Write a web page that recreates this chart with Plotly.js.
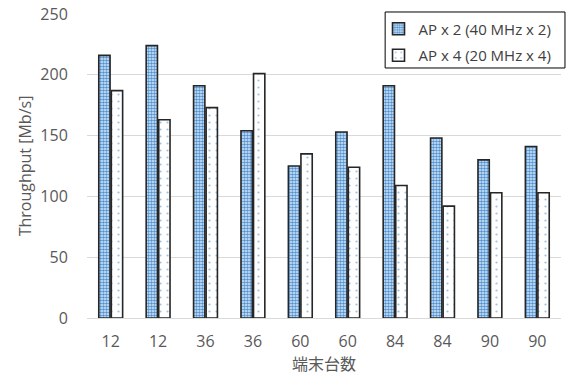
<!DOCTYPE html>
<html><head><meta charset="utf-8">
<script src="https://cdn.plot.ly/plotly-3.0.1.min.js"></script>
<style>html,body{margin:0;padding:0;background:#fff}#chart{width:570px;height:376px}</style>
</head><body><div id="chart"></div>
<script>
const categories = ["12","12","36","36","60","60","84","84","90","90"];
const seriesNames = ["AP x 2 (40 MHz x 2)","AP x 4 (20 MHz x 4)"];
const ap2 = [216,224,191,154,125,153,191,148,130,141];
const ap4 = [187,163,173,201,135,124,109,92,103,103];
const yTicks = [0,50,100,150,200,250];

const idx = categories.map((c,i)=>i);
const font = "Open Sans, Noto Sans, sans-serif";
const data = [
  {type:'bar', x:idx, y:ap2, name:seriesNames[0], legendgroup:'a',
   marker:{color:'#ffffff', line:{color:'#262626', width:1.6},
     pattern:{shape:'.', fgcolor:'#4f91d3', bgcolor:'#e3eef9', size:3, solidity:0.6}}},
  {type:'bar', x:idx, y:ap4, name:seriesNames[1], legendgroup:'b',
   marker:{color:'#ffffff', line:{color:'#262626', width:1.6},
     pattern:{shape:'.', fgcolor:'#9dc3e6', bgcolor:'#ffffff', size:7, solidity:0.08}}}
];
const layout = {
  width:570, height:376,
  margin:{l:87, r:9, t:14, b:58},
  paper_bgcolor:'#fff', plot_bgcolor:'#fff',
  barmode:'group', bargap:0.47, bargroupgap:0.1,
  font:{family:font, color:'#595959', size:16},
  xaxis:{tickmode:'array', tickvals:idx, ticktext:categories, range:[-0.5,9.5],
    showgrid:false, showline:true, linecolor:'#d9d9d9', linewidth:1.3,
    ticks:'outside', ticklen:8, tickcolor:'rgba(0,0,0,0)',
    tickfont:{size:16, color:'#595959'},
    title:{text:'端末台数', font:{family:'Noto Sans CJK JP, sans-serif', size:16, color:'#595959'}, standoff:4}},
  yaxis:{range:[0,250], tickvals:yTicks, showgrid:true, gridcolor:'#d9d9d9', gridwidth:1.3,
    zeroline:false, ticks:'outside', ticklen:15, tickcolor:'rgba(0,0,0,0)',
    tickfont:{size:16, color:'#595959'},
    title:{text:'Throughput [Mb/s]', font:{size:16, color:'#595959'}, standoff:4}},
  legend:{x:0.615, xanchor:'left', y:1.005, yanchor:'top', borderwidth:0,
    bgcolor:'rgba(0,0,0,0)', font:{size:15, color:'#404040'}, tracegroupgap:4, itemwidth:30},
  shapes:[{type:'rect', xref:'paper', yref:'paper', x0:0.6290, x1:1.0084, y0:0.8224, y1:1.0066,
    line:{color:'#000', width:1}, fillcolor:'#fff', layer:'above'}],
  showlegend:true
};
Plotly.newPlot('chart', data, layout, {staticPlot:true});
</script></body></html>
